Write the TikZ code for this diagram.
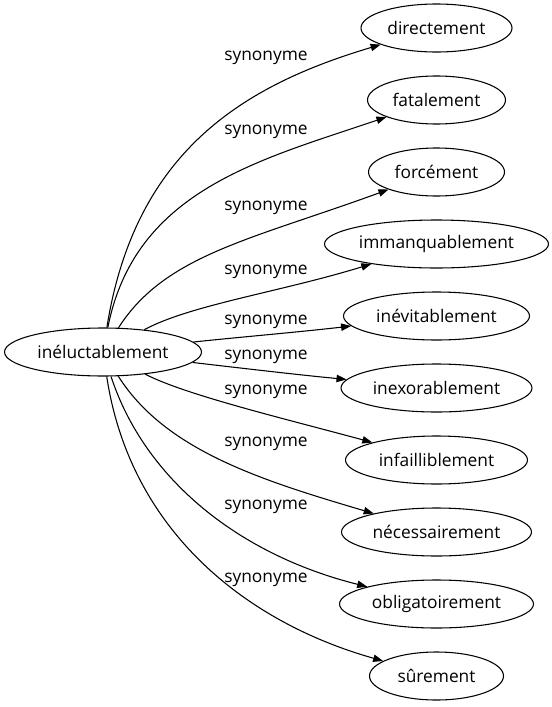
\documentclass[tikz,border=0pt]{standalone}
\usepackage{fontspec}
\setmainfont{Open Sans}
\usetikzlibrary{shapes.geometric,arrows.meta}
\begin{document}
\begin{tikzpicture}[x=0.75pt,y=-0.75pt,
  word/.style={ellipse,draw,line width=0.8pt,inner sep=0pt,minimum height=36pt,font=\fontsize{13}{15}\selectfont},
  lab/.style={inner sep=0pt,font=\fontsize{13}{15}\selectfont},
  syn/.style={line width=0.8pt,-{Triangle[length=7.5pt,width=5.5pt]}}]
\useasboundingbox (0,0) rectangle (552,707);
\node[word,minimum width=147.75pt] (c) at (103,352) {inéluctablement};
\node[word,minimum width=113.25pt] (t1) at (436.5,28) {directement};
\node[word,minimum width=103.5pt] (t2) at (436.5,100) {fatalement};
\node[word,minimum width=102pt] (t3) at (436.5,172) {forcément};
\node[word,minimum width=168pt] (t4) at (436.5,244) {immanquablement};
\node[word,minimum width=139.5pt] (t5) at (436.5,316) {inévitablement};
\node[word,minimum width=143.25pt] (t6) at (436.5,388) {inexorablement};
\node[word,minimum width=136.5pt] (t7) at (436.5,460) {infailliblement};
\node[word,minimum width=142.5pt] (t8) at (436.5,532) {nécessairement};
\node[word,minimum width=145.5pt] (t9) at (436.5,604) {obligatoirement};
\node[word,minimum width=100.5pt] (t10) at (436.5,676) {sûrement};
\node[lab] (l1) at (266,58) {synonyme};
\node[lab] (l2) at (266,132) {synonyme};
\node[lab] (l3) at (266,208) {synonyme};
\node[lab] (l4) at (266,272) {synonyme};
\node[lab] (l5) at (266,322) {synonyme};
\node[lab] (l6) at (266,357) {synonyme};
\node[lab] (l7) at (266,392) {synonyme};
\node[lab] (l8) at (266,444) {synonyme};
\node[lab] (l9) at (266,507) {synonyme};
\node[lab] (l10) at (266,580) {synonyme};
\draw[syn] (c) .. controls (135,150) and (245,85) .. (t1);
\draw[syn] (c) .. controls (135,190) and (260,160) .. (t2);
\draw[syn] (c) .. controls (165,255) and (250,240) .. (t3);
\draw[syn] (c) .. controls (190,305) and (280,292) .. (t4);
\draw[syn] (c) .. controls (230,338) and (300,332) .. (t5);
\draw[syn] (c) .. controls (240,368) and (300,375) .. (t6);
\draw[syn] (c) .. controls (185,395) and (290,420) .. (t7);
\draw[syn] (c) .. controls (165,450) and (260,480) .. (t8);
\draw[syn] (c) .. controls (145,480) and (240,555) .. (t9);
\draw[syn] (c) .. controls (130,530) and (245,622) .. (t10);
\end{tikzpicture}
\end{document}
